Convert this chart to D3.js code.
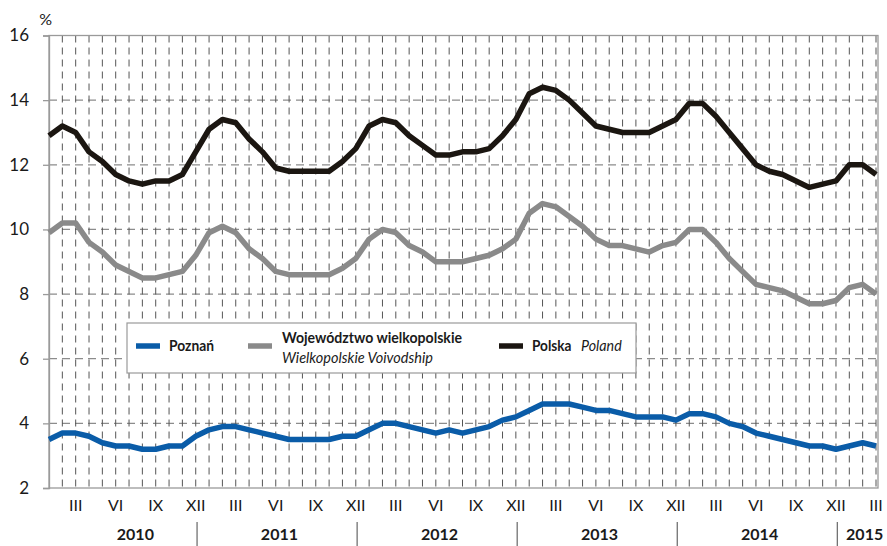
<!DOCTYPE html>
<html><head><meta charset="utf-8">
<script src="https://cdn.jsdelivr.net/npm/d3@7"></script>
<style>
body{margin:0;background:#fff;}
text{font-family:Lato,"Open Sans",sans-serif;fill:#1a1a1a;}
</style></head>
<body><svg id="c" width="887" height="546"></svg>
<script>
const years = ["2010","2011","2012","2013","2014","2015"];
const monthTickLabels = ["I","II","III","IV","V","VI","VII","VIII","IX","X","XI","XII"];
const shownMonths = ["III","VI","IX","XII"];
const yTicks = [2,4,6,8,10,12,14,16];
const seriesNames = ["Poznań","Województwo wielkopolskie","Polska"];
const seriesNamesEn = ["","Wielkopolskie Voivodship","Poland"];
const poznan = [3.5,3.7,3.7,3.6,3.4,3.3,3.3,3.2,3.2,3.3,3.3,3.6,
  3.8,3.9,3.9,3.8,3.7,3.6,3.5,3.5,3.5,3.5,3.6,3.6,
  3.8,4.0,4.0,3.9,3.8,3.7,3.8,3.7,3.8,3.9,4.1,4.2,
  4.4,4.6,4.6,4.6,4.5,4.4,4.4,4.3,4.2,4.2,4.2,4.1,
  4.3,4.3,4.2,4.0,3.9,3.7,3.6,3.5,3.4,3.3,3.3,3.2,
  3.3,3.4,3.3];
const wielkopolska = [9.9,10.2,10.2,9.6,9.3,8.9,8.7,8.5,8.5,8.6,8.7,9.2,
  9.9,10.1,9.9,9.4,9.1,8.7,8.6,8.6,8.6,8.6,8.8,9.1,
  9.7,10.0,9.9,9.5,9.3,9.0,9.0,9.0,9.1,9.2,9.4,9.7,
  10.5,10.8,10.7,10.4,10.1,9.7,9.5,9.5,9.4,9.3,9.5,9.6,
  10.0,10.0,9.6,9.1,8.7,8.3,8.2,8.1,7.9,7.7,7.7,7.8,
  8.2,8.3,8.0];
const polska = [12.9,13.2,13.0,12.4,12.1,11.7,11.5,11.4,11.5,11.5,11.7,12.4,
  13.1,13.4,13.3,12.8,12.4,11.9,11.8,11.8,11.8,11.8,12.1,12.5,
  13.2,13.4,13.3,12.9,12.6,12.3,12.3,12.4,12.4,12.5,12.9,13.4,
  14.2,14.4,14.3,14.0,13.6,13.2,13.1,13.0,13.0,13.0,13.2,13.4,
  13.9,13.9,13.5,13.0,12.5,12.0,11.8,11.7,11.5,11.3,11.4,11.5,
  12.0,12.0,11.7];

const colors = ["#0a5ca8","#8a8a8a","#1b1611"];
const svg = d3.select("#c");
const L=49, R=876, T=35.5, B=488, RB=878;
const n = polska.length;
const x = d3.scaleLinear().domain([0,n-1]).range([L,R]);
const y = d3.scaleLinear().domain([2,16]).range([B,T]);

// horizontal dashed grid
svg.append("g").selectAll("line").data(yTicks.filter(v=>v>2&&v<16)).join("line")
  .attr("x1",L).attr("x2",RB).attr("y1",d=>y(d)).attr("y2",d=>y(d))
  .attr("stroke","#8c8c8c").attr("stroke-width",1.3).attr("stroke-dasharray","8,5");
// vertical dashed grid
svg.append("g").selectAll("line").data(d3.range(1,n)).join("line")
  .attr("x1",d=>x(d)).attr("x2",d=>x(d)).attr("y1",T).attr("y2",B)
  .attr("stroke","#555").attr("stroke-width",1).attr("stroke-dasharray","7,5");
// frame
svg.append("rect").attr("x",L).attr("y",T).attr("width",RB-L).attr("height",B-T)
  .attr("fill","none").attr("stroke","#9a9a9a").attr("stroke-width",1.3);

// y axis
const yAxis = d3.axisLeft(y).tickValues(yTicks).tickSize(6).tickPadding(14).tickFormat(d3.format("d"));
const gy = svg.append("g").attr("transform",`translate(${L},0)`).call(yAxis);
gy.select(".domain").attr("stroke","#9a9a9a").attr("stroke-width",1.3);
gy.selectAll(".tick line").attr("stroke","#9a9a9a").attr("stroke-width",1.3);
gy.selectAll(".tick text").style("font-size","17px").attr("fill","#1a1a1a").attr("font-family","Lato");
svg.append("text").attr("x",L+3).attr("y",T-15).attr("text-anchor","end").attr("dominant-baseline","middle")
  .style("font-size","16px").text("%");

// month labels
const monthIdx = d3.range(n).filter(i=>shownMonths.includes(monthTickLabels[i%12]));
svg.append("g").selectAll("text").data(monthIdx).join("text")
  .attr("x",d=>x(d)).attr("y",507).attr("text-anchor","middle").attr("dominant-baseline","middle")
  .style("font-size","16px").text(d=>monthTickLabels[d%12]);
// year separators and labels
const sepIdx = years.slice(1).map((_,k)=>12*k+11.1);
svg.append("g").selectAll("line").data(sepIdx).join("line")
  .attr("x1",d=>x(d)).attr("x2",d=>x(d)).attr("y1",522).attr("y2",546)
  .attr("stroke","#666").attr("stroke-width",1.2);
svg.append("g").selectAll("text").data(years).join("text")
  .attr("x",(d,k)=>{const s=12*k, e=Math.min(12*k+11,n-1); return x((s+e)/2)+(k===0?13:(k===years.length-1?2:-3));})
  .attr("y",536).attr("text-anchor","middle").attr("dominant-baseline","middle")
  .style("font-size","16px").style("font-weight","bold").text(d=>d);

// lines
const line = d3.line().x((d,i)=>x(i)).y(d=>y(d));
[poznan,wielkopolska,polska].forEach((s,k)=>{
  svg.append("path").datum(s).attr("d",line).attr("fill","none")
    .attr("stroke",colors[k]).attr("stroke-width",5.5).attr("stroke-linejoin","round");
});

// legend
const lg = svg.append("g");
lg.append("rect").attr("x",127).attr("y",323).attr("width",509).attr("height",50)
  .attr("fill","#fff").attr("stroke","#9a9a9a").attr("stroke-width",1.2);
const items = [
  {sx:136, tx:169, ty:347, w:45},
  {sx:248, tx:282, ty:339, w:180, ty2:359, w2:151},
  {sx:499, tx:532, ty:347, w:39.5, tx2:581, w2:40.7}
];
function txt(xp, yp, s, bold, w){
  const t = lg.append("text").attr("x",xp).attr("y",yp).attr("dominant-baseline","middle")
    .style("font-size","16px").style("font-weight",bold?"bold":"normal").style("font-style",bold?"normal":"italic")
    .text(s);
  t.attr("textLength",w).attr("lengthAdjust","spacingAndGlyphs");
}
items.forEach((it,k)=>{
  lg.append("line").attr("x1",it.sx).attr("x2",it.sx+24).attr("y1",346).attr("y2",346)
    .attr("stroke",colors[k]).attr("stroke-width",5.5);
  txt(it.tx, it.ty, seriesNames[k], true, it.w);
  if(seriesNamesEn[k]){
    if(it.ty2) txt(it.tx, it.ty2, seriesNamesEn[k], false, it.w2);
    else txt(it.tx2, it.ty, seriesNamesEn[k], false, it.w2);
  }
});
</script></body></html>
